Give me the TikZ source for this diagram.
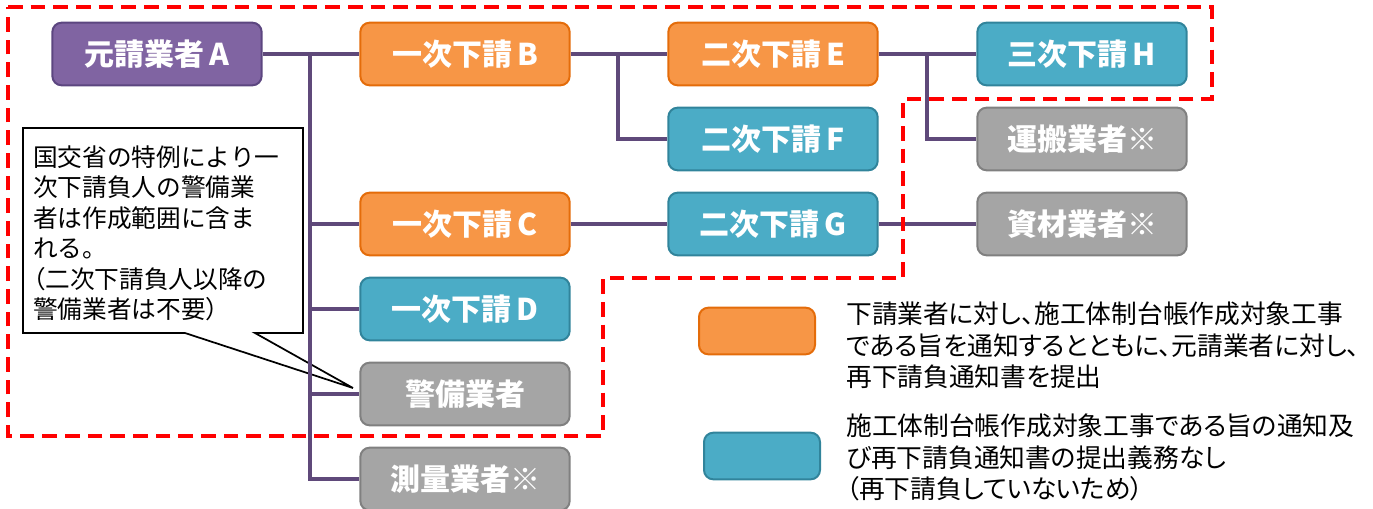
\documentclass[tikz,border=0pt]{standalone}
\usepackage{fontspec}
\setmainfont{Noto Sans CJK JP}
\newfontfamily\jpprop{Noto Sans CJK JP}[RawFeature=+palt]
\usepackage{tikz}
\usetikzlibrary{positioning}

\definecolor{primefill}{HTML}{8064A2}
\definecolor{primeline}{HTML}{5C4680}
\definecolor{orfill}{HTML}{F79646}
\definecolor{orline}{HTML}{E46C0A}
\definecolor{tealfill}{HTML}{4BACC6}
\definecolor{tealline}{HTML}{31849B}
\definecolor{grayfill}{HTML}{A5A5A5}
\definecolor{grayline}{HTML}{808080}
\definecolor{linkcol}{HTML}{5F497A}

\tikzset{
  firm/.style={rounded corners=7pt, line width=1.5pt, minimum width=157pt,
    minimum height=47pt, inner sep=0pt, text=white,
    font=\bfseries\fontsize{22.5}{26}\selectfont},
  prime/.style={firm, fill=primefill, draw=primeline},
  notify/.style={firm, fill=orfill, draw=orline},
  nonotify/.style={firm, fill=tealfill, draw=tealline},
  outside/.style={firm, fill=grayfill, draw=grayline},
  link/.style={draw=linkcol, line width=2.4pt},
  keytext/.style={anchor=north west, inner sep=0pt, align=left,
    font=\jpprop\fontsize{19.3}{23.5}\selectfont}
}

\begin{document}
\begin{tikzpicture}[x=0.75pt, y=-0.75pt]
            \useasboundingbox (0,0) rectangle (1373,508);
            %\draw (0,0) rectangle (1373,508);
            \draw[line width=1.3pt, fill=white] (23,128) -- (303,128) -- (303,333) -- (255,333)
              -- (353,388) -- (185,333) -- (23,333) -- cycle;
            \node[anchor=north west, inner sep=0pt, align=left,
              font=\fontsize{18.5}{22.9}\selectfont] (note) at (33,145)
              {国交省の特例により一\\次下請負人の警備業\\者は作成範囲に含ま\\れる。\\{\jpprop（}二次下請負人以降の\\警備業者は不要{\jpprop）}};

            \node[prime] (A) at (157,54) {元請業者\,A};
            \node[notify] (B) at (465,54) {一次下請\,B};
            \node[notify] (C) at (465,224) {一次下請\,C};
            \node[nonotify] (D) at (465,309) {一次下請\,D};
            \node[outside] (guard) at (465,394) {警備業者};
            \node[outside] (survey) at (465,479) {測量業者※};
            \node[notify] (E) at (773,54) {二次下請\,E};
            \node[nonotify] (F) at (773,139) {二次下請\,F};
            \node[nonotify] (G) at (773,224) {二次下請\,G};
            \node[nonotify] (H) at (1082,54) {三次下請\,H};
            \node[outside] (haul) at (1082,139) {運搬業者※};
            \node[outside] (mat) at (1082,224) {資材業者※};

            \coordinate (jA) at (310,54);
            \coordinate (jB) at (618,54);
            \coordinate (jE) at (927,54);
            \draw[link] (A) -- (B);
            \draw[link] (B) -- (E);
            \draw[link] (E) -- (H);
            \draw[link] (C) -- (G);
            \draw[link] (G) -- (mat);
            \draw[link] (jA) |- (C.west);
            \draw[link] (jA) |- (D.west);
            \draw[link] (jA) |- (guard.west);
            \draw[link] (jA) |- (survey.west);
            \draw[link] (jB) |- (F.west);
            \draw[link] (jE) |- (haul.west);

            \node[notify, minimum width=87pt, minimum height=35pt] (keyor) at (757,331) {};
            \node[nonotify, minimum width=87pt, minimum height=35pt] (keyteal) at (762,456) {};
            \node[keytext] (keyortext) at (846,302)
              {下請業者に対し、施工体制台帳作成対象工事\\である旨を通知するとともに、元請業者に対し、\\再下請負通知書を提出};
            \node[keytext] (keytealtext) at (846,414)
              {施工体制台帳作成対象工事である旨の通知及\\び再下請負通知書の提出義務なし\\（再下請負していないため）};

            \draw[red, line width=3.5pt, dash pattern=on 11pt off 6pt] (8,7) -- (1212,7) -- (1212,99)
              -- (903,99) -- (903,278) -- (603,278) -- (603,436) -- (8,436) -- cycle;
\end{tikzpicture}
\end{document}
